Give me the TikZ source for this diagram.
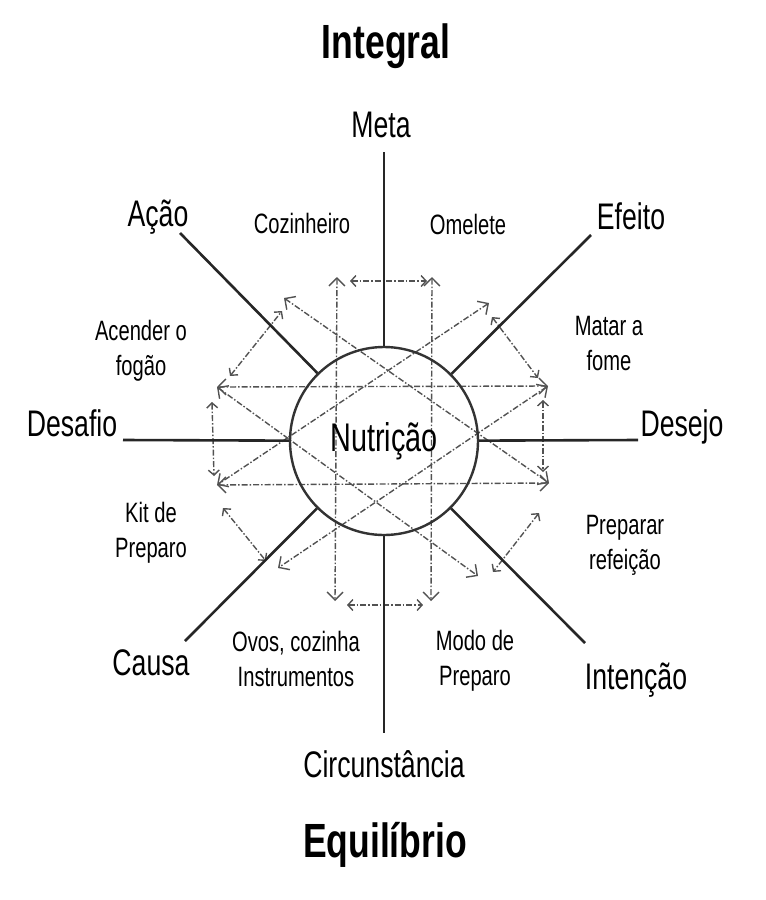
\documentclass[tikz,border=0pt]{standalone}
\usepackage{fontspec}
\newfontfamily\handfont[FakeStretch=0.72]{Liberation Sans}
\newfontfamily\titlefont[FakeStretch=0.74]{Liberation Sans}
\usetikzlibrary{arrows.meta}
\begin{document}
\begin{tikzpicture}[x=1pt,y=-1pt,
  title/.style={font=\titlefont\bfseries\fontsize{48}{52}\selectfont, anchor=base, inner sep=0pt},
  biglabel/.style={font=\handfont\fontsize{37}{40}\selectfont, anchor=base, inner sep=0pt},
  smalllabel/.style={font=\handfont\fontsize{28}{35}\selectfont, align=center, anchor=base, inner sep=0pt},
  axisline/.style={line width=2.6pt, draw=black!85},
  hubstyle/.style={circle, draw=black!80, line width=2.4pt, minimum size=188pt, inner sep=0pt, font=\handfont\fontsize{40}{44}\selectfont},
  crossarrow/.style={draw=black!68, line width=1.4pt, dash pattern=on 6pt off 2pt on 1.5pt off 2pt, <->, >={Straight Barb[length=8pt,width=16pt]}},
  rimarrow/.style={crossarrow, >={Straight Barb[length=5pt,width=11pt]}}
]
\useasboundingbox (0,0) rectangle (766,900);

% ring points (tips of the crossing arrows)
\coordinate (T1) at (337,277);
\coordinate (T2) at (432,277);
\coordinate (B1) at (335,601);
\coordinate (B2) at (431,601);
\coordinate (L1) at (217,387);
\coordinate (L2) at (217,485);
\coordinate (R1) at (548,386);
\coordinate (R2) at (549,483);
\coordinate (UL) at (284,298);
\coordinate (UR) at (489,303);
\coordinate (LL) at (278,568);
\coordinate (LR) at (478,576);

% rim arrow ends
\coordinate (pT1) at (350,281);
\coordinate (pT2) at (427,281);
\coordinate (pUR1) at (492,317);
\coordinate (pUR2) at (538,378);
\coordinate (pR1) at (543,400);
\coordinate (pR2) at (543,472);
\coordinate (pLR1) at (539,513);
\coordinate (pLR2) at (493,572);
\coordinate (pB1) at (347,605);
\coordinate (pB2) at (423,605);
\coordinate (pLL1) at (223,508);
\coordinate (pLL2) at (266,561);
\coordinate (pL1) at (212,402);
\coordinate (pL2) at (214,476);
\coordinate (pUL1) at (230,376);
\coordinate (pUL2) at (282,311);

% axis ends
\coordinate (aN) at (384,152);
\coordinate (aS) at (384,733);
\coordinate (aW) at (123,440);
\coordinate (aE) at (638,440);
\coordinate (aNW) at (180,233);
\coordinate (aNE) at (591,235);
\coordinate (aSW) at (185,641);
\coordinate (aSE) at (585,643);

% crossing arrows
\draw[crossarrow] (T1) -- (B1);
\draw[crossarrow] (T2) -- (B2);
\draw[crossarrow] (L1) -- (R1);
\draw[crossarrow] (L2) -- (R2);
\draw[crossarrow] (UL) -- (R2);
\draw[crossarrow] (UR) -- (L2);
\draw[crossarrow] (L1) -- (LR);
\draw[crossarrow] (R1) -- (LL);

% rim arrows
\draw[rimarrow] (pT1) -- (pT2);
\draw[rimarrow] (pUR1) -- (pUR2);
\draw[rimarrow] (pR1) -- (pR2);
\draw[rimarrow] (pLR1) -- (pLR2);
\draw[rimarrow] (pB1) -- (pB2);
\draw[rimarrow] (pLL1) -- (pLL2);
\draw[rimarrow] (pL1) -- (pL2);
\draw[rimarrow] (pUL1) -- (pUL2);

% hub
\node[hubstyle] (hub) at (384,441) {Nutrição};

% axes
\draw[axisline] (hub) -- (aN);
\draw[axisline] (hub) -- (aS);
\draw[axisline] (hub) -- (aW);
\draw[axisline] (hub) -- (aE);
\draw[axisline] (hub) -- (aNW);
\draw[axisline] (hub) -- (aNE);
\draw[axisline] (hub) -- (aSW);
\draw[axisline] (hub) -- (aSE);

% titles
\node[title] (integral) at (386,58) {Integral};
\node[title] (equil) at (385,857) {Equilíbrio};

% axis labels
\node[biglabel] (meta) at (381,137) {Meta};
\node[biglabel] (acao) at (158,226) {Ação};
\node[biglabel] (efeito) at (631,229) {Efeito};
\node[biglabel] (desafio) at (72,436) {Desafio};
\node[biglabel] (desejo) at (682,436) {Desejo};
\node[biglabel] (causa) at (151,675) {Causa};
\node[biglabel] (intencao) at (636,689) {Intenção};
\node[biglabel] (circ) at (384,777) {Circunstância};

% sector labels (anchor base = baseline of last line)
\node[smalllabel] (coz) at (302,233) {Cozinheiro};
\node[smalllabel] (omel) at (468,234) {Omelete};
\node[smalllabel] (acender) at (141,375) {Acender o\\fogão};
\node[smalllabel] (matar) at (609,370) {Matar a\\fome};
\node[smalllabel] (kit) at (151,557) {Kit de\\Preparo};
\node[smalllabel] (prep) at (625,569) {Preparar\\refeição};
\node[smalllabel] (ovos) at (296,686) {Ovos, cozinha\\Instrumentos};
\node[smalllabel] (modo) at (475,685) {Modo de\\Preparo};
\end{tikzpicture}
\end{document}
